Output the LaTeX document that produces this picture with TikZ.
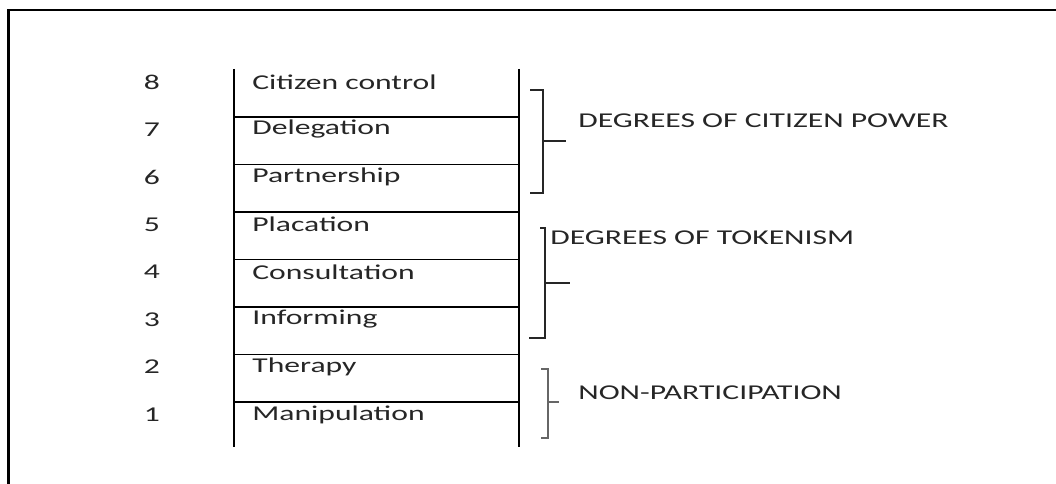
\documentclass[tikz,border=0pt]{standalone}
\usepackage{fontspec}
\setmainfont{Carlito}[FakeStretch=1.5]
\usetikzlibrary{positioning,calc}
\tikzset{
	frame/.style={color=black, line width=1.2pt},
	rung/.style={color=black, line width=0.9pt},
	brace/.style={color=black!85, line width=0.6pt},
	num/.style={font=\fontsize{12}{14}\selectfont, text=black!85, inner sep=0},
	level/.style={anchor=west, font=\fontsize{12}{14}\selectfont, text=black!85, inner sep=0},
	group/.style={anchor=west, font=\fontsize{12}{14}\selectfont, text=black!85, inner sep=0}
}
\begin{document}
\begin{tikzpicture}
\useasboundingbox (0,0) rectangle (21.12,9.68);
%%%% frame
\coordinate (fl) at (0.17,0);
\coordinate (ft) at (0.17,9.48);
\coordinate (fr) at (21.12,9.48);
\draw[frame] (fl) -- (ft) -- (fr);

%%%% ladder
\coordinate (lt) at (4.68,8.30);
\coordinate (lb) at (4.68,0.74);
\coordinate (rt) at (10.38,8.30);
\coordinate (rb) at (10.38,0.74);
\draw[rung] (lt) -- (lb);
\draw[rung] (rt) -- (rb);

\coordinate (a7) at (4.68,7.34); \coordinate (b7) at (10.38,7.34);
\coordinate (a6) at (4.68,6.39); \coordinate (b6) at (10.38,6.39);
\coordinate (a5) at (4.68,5.44); \coordinate (b5) at (10.38,5.44);
\coordinate (a4) at (4.68,4.49); \coordinate (b4) at (10.38,4.49);
\coordinate (a3) at (4.68,3.54); \coordinate (b3) at (10.38,3.54);
\coordinate (a2) at (4.68,2.59); \coordinate (b2) at (10.38,2.59);
\coordinate (a1) at (4.68,1.64); \coordinate (b1) at (10.38,1.64);
\draw[rung] (a7) -- (b7);
\draw[rung] (a6) -- (b6);
\draw[rung] (a5) -- (b5);
\draw[rung] (a4) -- (b4);
\draw[rung] (a3) -- (b3);
\draw[rung] (a2) -- (b2);
\draw[rung] (a1) -- (b1);

%%%% rungs: numbers and names
\node[num] (n8) at (3.04,8.04) {8};
\node[num] (n7) at (3.04,7.09) {7};
\node[num] (n6) at (3.04,6.14) {6};
\node[num] (n5) at (3.04,5.19) {5};
\node[num] (n4) at (3.04,4.24) {4};
\node[num] (n3) at (3.04,3.29) {3};
\node[num] (n2) at (3.04,2.34) {2};
\node[num] (n1) at (3.04,1.39) {1};

\node[level] (control) at (5.04,8.04) {Citizen control};
\node[level] (delegation) at (5.04,7.09) {Delegation};
\node[level] (partnership) at (5.04,6.14) {Partnership};
\node[level] (placation) at (5.04,5.19) {Placation};
\node[level] (consultation) at (5.04,4.24) {Consultation};
\node[level] (informing) at (5.04,3.29) {Informing};
\node[level] (therapy) at (5.04,2.34) {Therapy};
\node[level] (manipulation) at (5.04,1.39) {Manipulation};

%%%% brackets
\coordinate (p1) at (10.86,7.88);
\coordinate (p2) at (10.86,5.82);
\coordinate (pm) at (10.86,6.86);
\draw[brace] (10.60,7.88) -- (p1) -- (p2) -- (10.60,5.82);
\draw[brace] (pm) -- ++(0.46,0);
\node[group] (power) at (11.56,7.26) {DEGREES OF CITIZEN POWER};

\coordinate (t1) at (10.90,5.12);
\coordinate (t2) at (10.90,2.92);
\coordinate (tm) at (10.90,4.02);
\draw[brace] (10.80,5.12) -- (t1) -- (t2) -- (10.58,2.92);
\draw[brace] (tm) -- ++(0.50,0);
\node[group] (tokenism) at (11.00,4.92) {DEGREES OF TOKENISM};

\coordinate (q1) at (10.96,2.30);
\coordinate (q2) at (10.96,0.92);
\coordinate (qm) at (10.96,1.64);
\draw[brace, black!60] (10.82,2.30) -- (q1) -- (q2) -- (10.82,0.92);
\draw[brace, black!60] (qm) -- ++(0.22,0);
\node[group] (nonpart) at (11.56,1.82) {NON-PARTICIPATION};
\end{tikzpicture}
\end{document}
